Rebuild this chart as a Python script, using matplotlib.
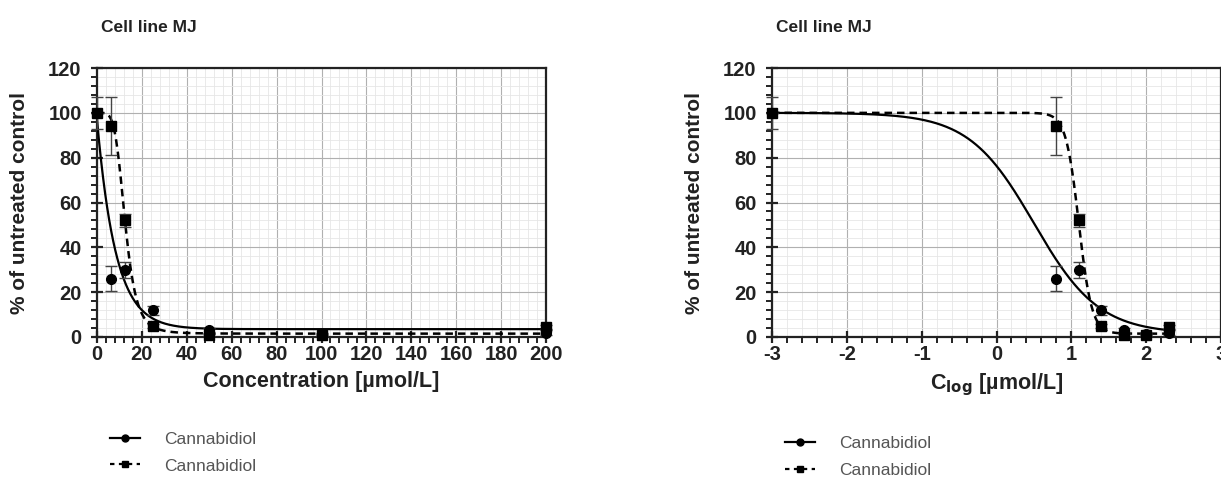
import numpy as np
import matplotlib
matplotlib.use("Agg")
import matplotlib.pyplot as plt
from matplotlib.ticker import MultipleLocator

plt.rcParams['font.family'] = ['Liberation Sans', 'DejaVu Sans']
plt.rcParams['axes.unicode_minus'] = False

# measured points (mean, error) for the two Cannabidiol series
conc = [0, 6.25, 12.5, 25, 50, 100, 200]
log_conc = [-3, 0.796, 1.097, 1.398, 1.699, 2.0, 2.301]
circ_val = [100, 26, 30, 12, 3, 1.5, 2]
circ_err = [7, 5.5, 3.5, 2, 1, 0.5, 1]
sq_val = [100, 94, 52, 5, 0.8, 1, 4.5]
sq_err = [0, 13, 3, 1, 0.5, 0.5, 1]

# fitted curve parameters
exp_top, exp_bottom, exp_k = 97, 3.5, 0.12          # solid, linear panel
hill_top, hill_bottom = 100, 1.5
solid_logic50, solid_slope = 0.5, 1.0               # solid, log panel
dash_logic50, dash_slope = 1.1, 5.0                 # dashed, both panels

title = "Cell line MJ"
ylabel = "% of untreated control"
label = "Cannabidiol"


def hill_log(x, logic50, slope):
    return hill_bottom + (hill_top - hill_bottom) / (1 + 10 ** ((x - logic50) * slope))


fig = plt.figure(figsize=(12.21, 4.83), dpi=100)
ax1 = fig.add_axes([97 / 1221, 1 - 337 / 483, 449 / 1221, 269 / 483])
ax2 = fig.add_axes([772 / 1221, 1 - 337 / 483, 449 / 1221, 269 / 483])

tc = '#222222'


def style(ax, xmaj, xmin):
    ax.set_ylim(0, 120)
    ax.xaxis.set_major_locator(MultipleLocator(xmaj))
    ax.xaxis.set_minor_locator(MultipleLocator(xmin))
    ax.yaxis.set_major_locator(MultipleLocator(20))
    ax.yaxis.set_minor_locator(MultipleLocator(4))
    ax.grid(which='major', color='#b0b0b0', lw=0.8)
    ax.grid(which='minor', color='#e6e6e6', lw=0.6)
    ax.set_axisbelow(True)
    for s in ax.spines.values():
        s.set_linewidth(1.6)
        s.set_color(tc)
    ax.tick_params(which='major', direction='inout', length=8, width=1.6,
                   labelsize=14.5, colors=tc)
    ax.tick_params(axis='y', which='major', pad=7)
    ax.tick_params(axis='x', which='major', pad=2)
    ax.tick_params(which='minor', direction='out', length=4, width=1.4, colors=tc)
    for lab in ax.get_xticklabels() + ax.get_yticklabels():
        lab.set_fontweight('bold')
    ax.set_ylabel(ylabel, fontsize=15, fontweight='bold', color=tc, labelpad=14)
    ax.text(0.01, 1.135, title, transform=ax.transAxes, fontsize=12.5,
            fontweight='bold', color=tc, va='baseline')


# left panel: linear concentration
xs = np.linspace(0, 200, 2000)
ax1.plot(xs, exp_bottom + (exp_top - exp_bottom) * np.exp(-exp_k * xs),
         color='black', lw=1.6, zorder=3)
xc = np.where(xs > 0, xs, 1e-9)
ax1.plot(xs, hill_log(np.log10(xc), dash_logic50, dash_slope),
         color='black', lw=1.8, ls=(0, (3, 2)), zorder=3)
ax1.errorbar(conc, circ_val, yerr=circ_err, fmt='o', color='black', ms=7,
             ecolor='#444444', elinewidth=1, capsize=4, clip_on=False, zorder=4)
ax1.errorbar(conc, sq_val, yerr=sq_err, fmt='s', color='black', ms=6.5,
             ecolor='#444444', elinewidth=1, capsize=4, clip_on=False, zorder=4)
ax1.set_xlim(0, 200)
style(ax1, 20, 4)
ax1.set_xlabel("Concentration [µmol/L]", fontsize=15.5, fontweight='bold',
               color=tc, labelpad=5)

# right panel: log concentration, curves span the measured range
xl = np.linspace(log_conc[0], log_conc[-1], 1000)
ax2.plot(xl, hill_log(xl, solid_logic50, solid_slope), color='black', lw=1.6, zorder=3)
ax2.plot(xl, hill_log(xl, dash_logic50, dash_slope), color='black', lw=1.8,
         ls=(0, (3, 2)), zorder=3)
ax2.errorbar(log_conc, circ_val, yerr=circ_err, fmt='o', color='black', ms=7,
             ecolor='#444444', elinewidth=1, capsize=4, clip_on=False, zorder=4)
ax2.errorbar(log_conc, sq_val, yerr=sq_err, fmt='s', color='black', ms=6.5,
             ecolor='#444444', elinewidth=1, capsize=4, clip_on=False, zorder=4)
ax2.set_xlim(-3, 3)
style(ax2, 1, 0.2)
ax2.set_xlabel("C$_{\\mathbf{log}}$ [µmol/L]", fontsize=15.5, fontweight='bold',
               color=tc, labelpad=5)

# legends
h1, = ax1.plot([], [], color='black', lw=1.6, marker='o', ms=5)
h2, = ax1.plot([], [], color='black', lw=1.6, ls=(0, (2, 2)), marker='s', ms=5)
for ax, y in ((ax1, -0.295), (ax2, -0.31)):
    ax.legend([h1, h2], [label, label], loc='upper left', bbox_to_anchor=(-0.005, y),
              frameon=False, fontsize=12.5, handlelength=1.7, handletextpad=1.4,
              labelspacing=0.65, labelcolor='#555555')

fig.savefig('out.png', dpi=100)
